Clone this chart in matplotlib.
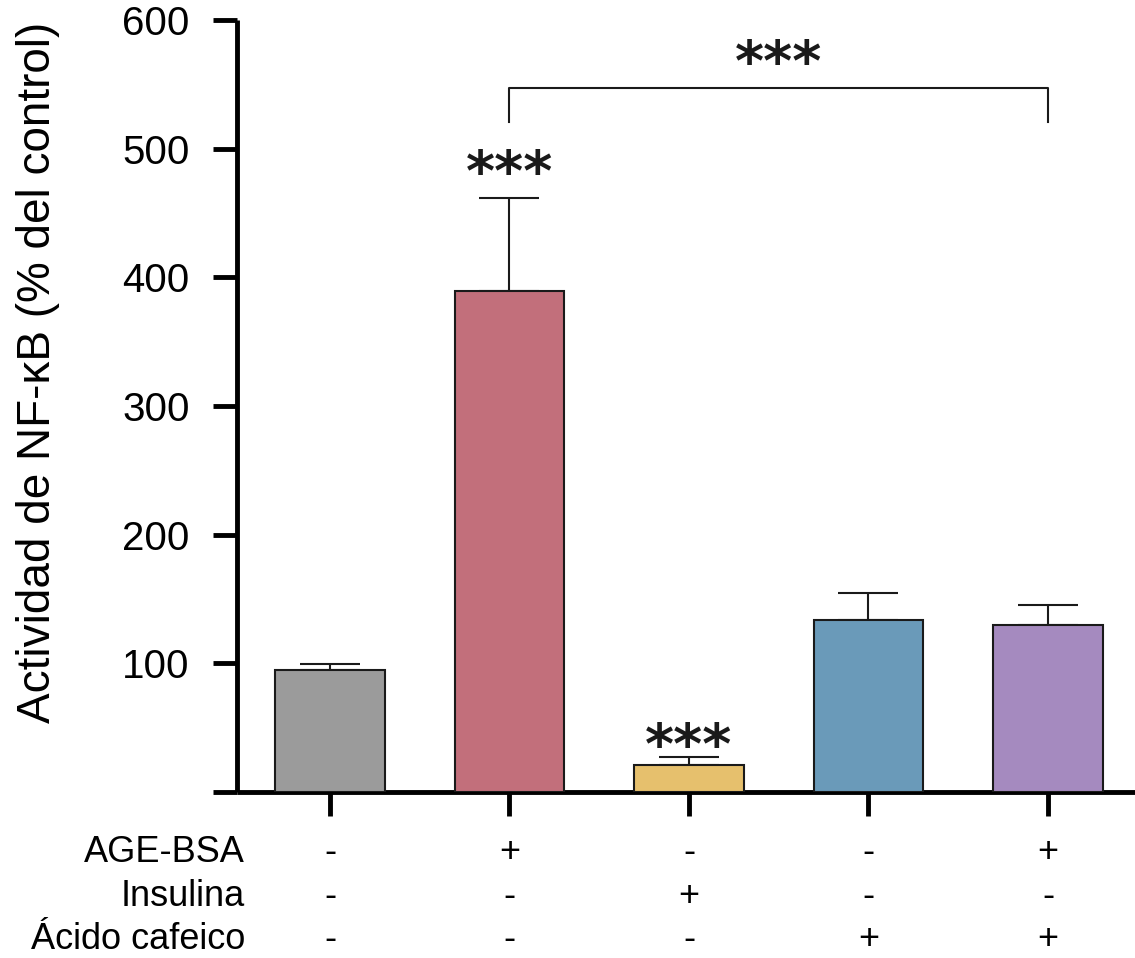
import matplotlib
matplotlib.use("Agg")
import matplotlib.pyplot as plt
import numpy as np

plt.rcParams['font.family'] = ['Liberation Sans', 'DejaVu Sans']

# ---- data ----
groups = ["Control", "AGE-BSA", "Insulina", "Ácido cafeico", "AGE-BSA + Ácido cafeico"]
means = [95, 389, 21, 134, 130]
errors = [4.5, 73, 6.5, 21, 15]
colors = ["#9b9b9b", "#c26f7b", "#e6c06d", "#6a9ab9", "#a58abf"]
row_labels = ["AGE-BSA", "Insulina", "Ácido cafeico"]
row_signs = [
    ["-", "+", "-", "-", "+"],
    ["-", "-", "+", "-", "-"],
    ["-", "-", "-", "+", "+"],
]
yticks = [0, 100, 200, 300, 400, 500, 600]
ytick_labels = ["", "100", "200", "300", "400", "500", "600"]
ylabel = "Actividad de NF-κB (% del control)"
star_text = "***"
star_groups = [1, 2]          # groups with significance stars
star_centers = [487, 42]      # vertical centre of the stars (data units)
bracket_pair = (1, 4)
bracket_y = 547
bracket_drop = 26
bracket_star_center = 573

fig = plt.figure(figsize=(11.35, 9.58), dpi=100)
ax = fig.add_axes([237/1135, (958-792)/958, 1 - 237/1135, (792-20)/958])

x = np.arange(len(groups))
ax.bar(x, means, width=0.61, color=colors, edgecolor="#1a1a1a", linewidth=1.5, zorder=3)
ax.errorbar(x, means, yerr=[np.zeros(len(means)), errors], fmt="none",
            ecolor="#1a1a1a", elinewidth=1.5, capsize=21.5, capthick=1.5, zorder=2)

ax.set_xlim(-0.518, 4.485)
ax.set_ylim(0, 600)
ax.set_yticks(yticks)
ax.set_yticklabels(ytick_labels, fontsize=29)
ax.set_xticks(x)
ax.set_xticklabels([""] * len(x))
for s in ["top", "right"]:
    ax.spines[s].set_visible(False)
for s in ["left", "bottom"]:
    ax.spines[s].set_linewidth(3.5)
    ax.spines[s].set_capstyle("butt")
ax.tick_params(axis="both", length=17, width=3.5, color="black")
ax.tick_params(axis="y", pad=17)
ax.set_ylabel(ylabel, fontsize=33)
ax.yaxis.set_label_coords(-0.197, 0.544)

STAR_KW = dict(textcoords="offset points", ha="center", va="bottom", fontsize=40,
               fontweight="bold", family="DejaVu Sans", color="#1a1a1a")

# stars above bars
for g, c in zip(star_groups, star_centers):
    ax.annotate(star_text, xy=(x[g], c), xytext=(0, -26.6), **STAR_KW)

# bracket
a, b = bracket_pair
ax.plot([x[a], x[a], x[b], x[b]],
        [bracket_y - bracket_drop, bracket_y, bracket_y, bracket_y - bracket_drop],
        color="#1a1a1a", lw=1.5, clip_on=False)
ax.annotate(star_text, xy=((x[a] + x[b]) / 2, bracket_star_center), xytext=(0, -26.6),
            **STAR_KW)

# treatment table
trans = matplotlib.transforms.blended_transform_factory(ax.transData, fig.transFigure)
row_baselines = [1 - 862/958, 1 - 906/958, 1 - 949/958]
for lbl, signs, yy in zip(row_labels, row_signs, row_baselines):
    fig.text(245/1135, yy, lbl, ha="right", va="baseline", fontsize=26)
    for xi, s in zip(x, signs):
        ax.text(xi, yy, s, transform=trans, ha="center", va="baseline", fontsize=26,
                clip_on=False)

fig.savefig("out.png", dpi=100)
